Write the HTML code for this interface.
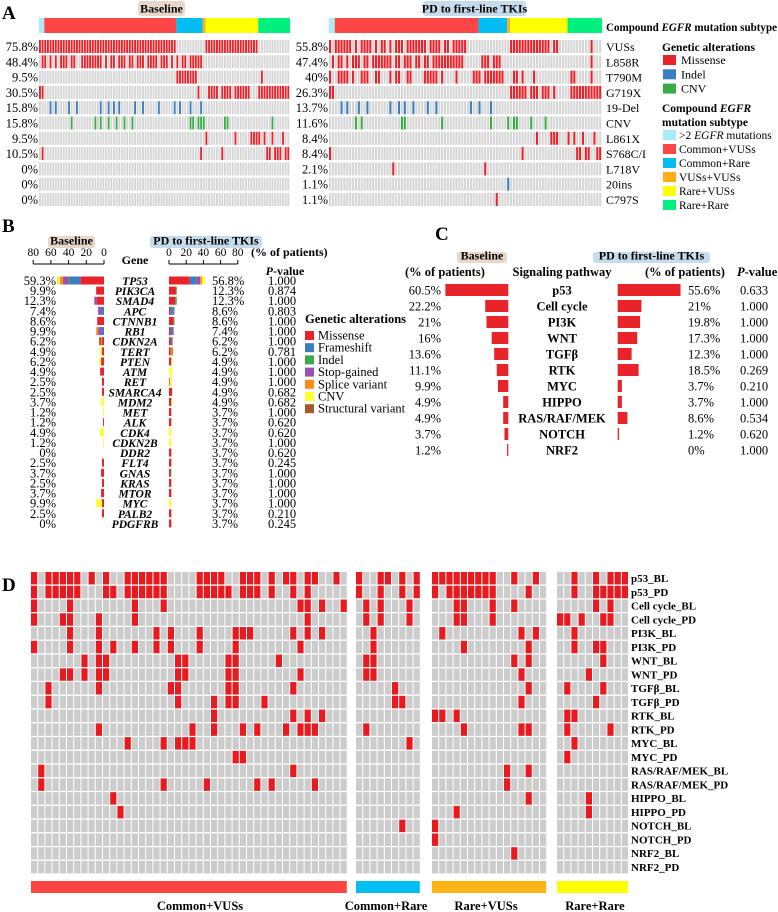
<!DOCTYPE html>
<html><head><meta charset="utf-8">
<style>
html,body{margin:0;padding:0;background:#fff;}
svg{display:block;}
text{font-family:"Liberation Serif",serif;fill:#000;}
</style></head>
<body>
<svg id="fig" width="778" height="912" viewBox="0 0 778 912" xmlns="http://www.w3.org/2000/svg"></svg>
<script>
// ---------- Panel A data ----------
const aRows=['VUSs','L858R','T790M','G719X','19-Del','CNV','L861X','S768C/I','L718V','20ins','C797S'];
const aTypes=['M','M','M','M','I','C','M','M','M','I','M'];
const aBLpct=['75.8%','48.4%','9.5%','30.5%','15.8%','15.8%','9.5%','10.5%','0%','0%','0%'];
const aPDpct=['55.8%','47.4%','40%','26.3%','13.7%','11.6%','8.4%','8.4%','2.1%','1.1%','1.1%'];
const aBL=["0-51,63-82","1,2,4,6,8-10,12,13,16-23,25,27,28,30-32,34,35,37-39,41-44,46-48,50,52,54,55,57-61","52-59,84","0,1,60,64-67,69-72,74-79,83-94","4,6,11,14,23,26,28,30,36,39,45,51,53,57,61","12,21,23,26,29,32,35,57,58,60,61,62,70,71,88","63,74,80,81,82,83,85,88,92","1,61,69,86,87,89,90,91,93,94","","",""];
const aPD=["0,2-7,9,11-14,16,18,19,21,23-25,27-33,35-38,40,41,43-47,63-76,78,79,91","1,3,4,6,8-10,12,13,15-21,23,24,26-28,30,31,33,34,36-46,53-55,57-59,91","0,3-6,8,11-13,16,17,21,23,24,27,28,33-37,39,44,50-52,54-60,64,65,67,71,84,85,91","0,1,63-68,70-72,74-76,78,84-94","4,6,10,13,21,24,26,29,34,37,49,52,56","9,11,25,26,39,56,62,64,65,70,75","72,77,78,79,83,85,88,92","0,67,86,87,89,90,93,94","22,54","62","58"];
const subNames=['>2 EGFR mutations','Common+VUSs','Common+Rare','VUSs+VUSs','Rare+VUSs','Rare+Rare'];
const subCounts=[2,50,10,1,20,12];
// ---------- Panel B data ----------
const bGenes=['TP53','PIK3CA','SMAD4','APC','CTNNB1','RB1','CDKN2A','TERT','PTEN','ATM','RET','SMARCA4','MDM2','MET','ALK','CDK4','CDKN2B','DDR2','FLT4','GNAS','KRAS','MTOR','MYC','PALB2','PDGFRB'];
const bBLpct=[59.3,9.9,12.3,7.4,8.6,9.9,6.2,4.9,6.2,4.9,2.5,2.5,3.7,1.2,1.2,4.9,1.2,0,2.5,3.7,2.5,3.7,9.9,2.5,0];
const bPDpct=[56.8,12.3,12.3,8.6,8.6,7.4,6.2,6.2,4.9,4.9,4.9,4.9,4.9,3.7,3.7,3.7,3.7,3.7,3.7,3.7,3.7,3.7,3.7,3.7,3.7];
const bP=['1.000','0.874','1.000','0.803','1.000','1.000','1.000','0.781','1.000','1.000','1.000','0.682','0.682','1.000','0.620','0.620','1.000','0.620','0.245','1.000','1.000','1.000','1.000','0.210','0.245'];
const bAltNames=['Missense','Frameshift','Indel','Stop-gained','Splice variant','CNV','Structural variant'];
// segment composition [missense, frameshift, indel, stop, splice, cnv, sv]
const bBLseg=[[30,13,2,7,4,3,0.3],[9.9,0,0,0,0,0,0],[9,0,0,3.3,0,0,0],[0,3.7,0,3.7,0,0,0],[8.6,0,0,0,0,0,0],[0,3.7,0,3.7,2.5,0,0],[2.5,0,0,0,1.2,0,2.5],[2.5,0,0,0,0,2.4,0],[3.7,0,0,0,0,2.5,0],[4.9,0,0,0,0,0,0],[2.5,0,0,0,0,0,0],[2.5,0,0,0,0,0,0],[0,0,0,0,0,3.7,0],[0,0,0,0,0,1.2,0],[1.2,0,0,0,0,0,0],[0,0,0,0,0,4.9,0],[0,0,0,0,0,1.2,0],[0,0,0,0,0,0,0],[2.5,0,0,0,0,0,0],[3.7,0,0,0,0,0,0],[2.5,0,0,0,0,0,0],[3.7,0,0,0,0,0,0],[2.5,0,0,0,0,7.4,0],[2.5,0,0,0,0,0,0],[0,0,0,0,0,0,0]];
const bPDseg=[[33,10.6,0.7,5,3,4.5,0],[11,0,1.3,0,0,0,0],[10,0,2.3,0,0,0,0],[2,4,1.2,1.4,0,0,0],[7.4,0,1.2,0,0,0,0],[2.5,3.7,0,1.2,0,0,0],[2.5,2.5,0,0,1.2,0,0],[2.5,0,0,0,2.5,0,1.2],[3.7,0,0,0,0,1.2,0],[0,0,0,0,0,4.9,0],[1.2,0,0,0,0,3.7,0],[4.9,0,0,0,0,0,0],[3.7,0,0,0,0,1.2,0],[3.7,0,0,0,0,0,0],[3.7,0,0,0,0,0,0],[0,0,0,0,0,3.7,0],[0,0,0,0,0,3.7,0],[3.7,0,0,0,0,0,0],[3.7,0,0,0,0,0,0],[2.5,0,1.2,0,0,0,0],[3.7,0,0,0,0,0,0],[3.7,0,0,0,0,0,0],[0,0,0,0,0,3.7,0],[3.7,0,0,0,0,0,0],[3.7,0,0,0,0,0,0]];
const bTicks=[80,60,40,20,0];
// ---------- Panel C data ----------
const cPath=['p53','Cell cycle','PI3K','WNT','TGFβ','RTK','MYC','HIPPO','RAS/RAF/MEK','NOTCH','NRF2'];
const cBL=[60.5,22.2,21,16,13.6,11.1,9.9,4.9,4.9,3.7,1.2];
const cPD=[55.6,21,19.8,17.3,12.3,18.5,3.7,3.7,8.6,1.2,0];
const cP=['0.633','1.000','1.000','1.000','1.000','0.269','0.210','1.000','0.534','0.620','1.000'];
// ---------- Panel D data ----------
const dRows=['p53_BL','p53_PD','Cell cycle_BL','Cell cycle_PD','PI3K_BL','PI3K_PD','WNT_BL','WNT_PD','TGFβ_BL','TGFβ_PD','RTK_BL','RTK_PD','MYC_BL','MYC_PD','RAS/RAF/MEK_BL','RAS/RAF/MEK_PD','HIPPO_BL','HIPPO_PD','NOTCH_BL','NOTCH_PD','NRF2_BL','NRF2_PD'];
const dGroups=['Common+VUSs','Common+Rare','Rare+VUSs','Rare+Rare'];
const dCols=[44,9,16,10];
const dCV=["0,2,3,4,5,6,8,10,13,14,15,16,17,18,23,24,25,26,29,30,31,33,35,36,38,39,42","0,2,3,4,5,6,10,11,13,14,15,16,17,18,23,24,25,26,27,29,30,31,33,36,38","0,5,14,18,37,38,40,43","0,4,5,9,14,38","5,9,17,19,23,28,29,30,36,38,40","0,5,9,11,14,17,19,23,28,37","7,9,10,20,21,27,28,34","4,5,7,9,10,20,21,27,28,37","2,9,19,20,27,28,36","2,20,25,27,28,32","25,36,38,40","9,22,25,29,31,35,37,38,39","13,18,20,21,22","28,29","1,36","1,18,24,31,33,39","11","12","","","",""];
const dCR=["0,3,4,6,8","0,3,6,8","1,3,7","1,3,7","2","2","1,2","1,2","5","5,6","","1","7","","","","","","6","","",""];
const dRV=["0,1,2,3,4,5,6,7,8,11,14","0,2,3,4,5,6,7,8,13","3,4,8,11","3,4,8","1,12,14","4,13","11,13","12","13","12","0,1,3","4,12,13","","","10,13","10","13","3","0","0","11",""];
const dRR=["2,5,7,8,9","2,5,6,7,8,9","5,7","0,1,3,6,7","2","2,5,6","6","4","1,6","5","1,2","1,7","2","1","","","4","4","","","",""];

const NS='http://www.w3.org/2000/svg';
const svg=document.getElementById('fig');
function el(tag,attrs,name,parent){
  const e=document.createElementNS(NS,tag);
  for(const k in attrs) e.setAttribute(k,attrs[k]);
  
  
  (parent||svg).appendChild(e);
  return e;
}
function txt(x,y,s,name,opt){
  opt=opt||{};
  const t=el('text',{x:x,y:y,'font-size':opt.fs||12,'text-anchor':opt.a||'start','font-weight':opt.b?'bold':'normal','font-style':opt.i?'italic':'normal'},name,opt.p);
  t.textContent=s;
  return t;
}
function parse(s){
  const out=new Set(); if(!s) return out;
  s.split(',').forEach(p=>{ if(p.includes('-')){const [a,b]=p.split('-').map(Number); for(let i=a;i<=b;i++) out.add(i);} else out.add(Number(p)); });
  return out;
}
const RED='#e8232a', BLUE='#3a7dc0', GREEN='#3aaa48';
const subColors=['#a8ecf8','#ff4646','#00bdf2','#ffae1a','#ffff00','#00f07e'];
const altColors=[RED,'#3a7dc0','#3aaa48','#9b4fb0','#ff8a1a','#ffff33','#a65a2a'];

// ---------------- Panel A ----------------
txt(2,19,'A','panel-a-label',{fs:19,b:true});
function box(x,y,w,h,fill,label,name){
  el('rect',{x:x,y:y,width:w,height:h,rx:3,fill:fill},name+'-box');
  txt(x+w/2,y+h-3.5,label,name,{fs:12,b:true,a:'middle'});
}
box(138,1,47,15,'#e8d8cb','Baseline','a-baseline-title');
box(423,1,103,15,'#c6dcec','PD to first-line TKIs','a-pd-title');
function oncoprint(x0,w,data,pct,side){
  const n=95, p=w/n;
  const xs=i=>x0+i*p;
  let c=0;
  subCounts.forEach((cnt,gi)=>{
    el('rect',{x:xs(c),y:18,width:cnt*p,height:15,fill:subColors[gi]},'a-'+side+'-subtype-'+gi);
    c+=cnt;
  });
  aRows.forEach((r,ri)=>{
    const y=40+ri*15.3;
    const set=parse(data[ri]);
    for(let i=0;i<n;i++){
      let f='#d6d6d6';
      if(set.has(i)) f=aTypes[ri]==='M'?RED:(aTypes[ri]==='I'?BLUE:GREEN);
      el('rect',{x:xs(i),y:y,width:p-0.75,height:13,fill:f},'a-'+side+'-cell');
    }
    txt(x0-1,y+11,pct[ri],'a-'+side+'-pct',{fs:12.5,a:'end'});
  });
}
oncoprint(39,251,aBL,aBLpct,'baseline');
oncoprint(329,273,aPD,aPDpct,'pd');
aRows.forEach((r,ri)=>txt(606,51+ri*15.3,r,'a-row-label',{fs:12}));
{
  const t=txt(606,31,'Compound ','a-subtype-title',{fs:11.5,b:true});
  t.setAttribute('textLength','171');
  t.setAttribute('lengthAdjust','spacingAndGlyphs');
  const s1=document.createElementNS(NS,'tspan'); s1.setAttribute('font-style','italic'); s1.textContent='EGFR'; t.appendChild(s1);
  const s2=document.createElementNS(NS,'tspan'); s2.textContent=' mutation subtype'; t.appendChild(s2);
}
txt(662,51,'Genetic alterations','a-legend-title',{fs:11.5,b:true});
[['Missense',RED],['Indel',BLUE],['CNV',GREEN]].forEach((it,i)=>{
  el('rect',{x:663,y:55+i*14.3,width:13,height:10,fill:it[1]},'a-legend-swatch');
  txt(681,64+i*14.3,it[0],'a-legend-entry',{fs:12});
});
{
  const t=txt(662,112,'Compound ','a-legend2-title',{fs:11.5,b:true});
  const s1=document.createElementNS(NS,'tspan'); s1.setAttribute('font-style','italic'); s1.textContent='EGFR'; t.appendChild(s1);
  txt(662,126,'mutation subtype','a-legend2-title-2',{fs:11.5,b:true});
}
subNames.forEach((s,i)=>{
  el('rect',{x:663,y:130+i*14,width:13,height:10,fill:subColors[i]},'a-subtype-swatch');
  const t=txt(679,139+i*14,'','a-subtype-entry',{fs:11.5});
  if(i===0){ t.appendChild(document.createTextNode('>2 ')); const sp=document.createElementNS(NS,'tspan'); sp.setAttribute('font-style','italic'); sp.textContent='EGFR'; t.appendChild(sp); t.appendChild(document.createTextNode(' mutations')); }
  else t.textContent=s;
});

// ---------------- Panel B ----------------
txt(2,232,'B','panel-b-label',{fs:19,b:true});
box(48,236,47,12,'#e8d8cb','Baseline','b-baseline-title');
box(150,236,112,12,'#c6dcec','PD to first-line TKIs','b-pd-title');
const bBLx=104, bBLs=0.885, bPDx=169, bPDs=0.86;
el('line',{x1:bBLx-80*bBLs,y1:264,x2:bBLx,y2:264,stroke:'#000','stroke-width':1},'b-baseline-axis');
el('line',{x1:bPDx,y1:264,x2:bPDx+80*bPDs,y2:264,stroke:'#000','stroke-width':1},'b-pd-axis');
bTicks.forEach(t=>{
  el('line',{x1:bBLx-t*bBLs,y1:260,x2:bBLx-t*bBLs,y2:264,stroke:'#000'},'b-baseline-tick');
  txt(bBLx-t*bBLs,256,String(t),'b-baseline-tick-label',{fs:11.5,a:'middle'});
  el('line',{x1:bPDx+t*bPDs,y1:260,x2:bPDx+t*bPDs,y2:264,stroke:'#000'},'b-pd-tick');
  txt(bPDx+t*bPDs,256,String(t),'b-pd-tick-label',{fs:11.5,a:'middle'});
});
txt(135,264,'Gene','b-gene-header',{fs:12,b:true,a:'middle'});
txt(251,256,'(% of patients)','b-pct-header',{fs:12,b:true});
{ const t=txt(285,275,'','b-pvalue-header',{fs:12,b:true,a:'middle'}); const sp=document.createElementNS(NS,'tspan'); sp.setAttribute('font-style','italic'); sp.textContent='P'; t.appendChild(sp); t.appendChild(document.createTextNode('-value')); }
const bBLvis=0.79, bPDvis=0.63;
bGenes.forEach((g,i)=>{
  const y=281+i*10.12;
  let xr=bBLx;
  bBLseg[i].forEach((v,k)=>{ if(v>0){ const w=v*bBLvis; el('rect',{x:xr-w,y:y-4.5,width:w,height:8,fill:altColors[k]},'b-baseline-bar-'+g); xr-=w; } });
  let xl=bPDx;
  bPDseg[i].forEach((v,k)=>{ if(v>0){ const w=v*bPDvis; el('rect',{x:xl,y:y-4.5,width:w,height:8,fill:altColors[k]},'b-pd-bar-'+g); xl+=w; } });
  txt(56,y+4,bBLpct[i]+'%','b-baseline-pct',{fs:12.5,a:'end'});
  txt(135,y+4,g,'b-gene-label',{fs:11.5,b:true,i:true,a:'middle'});
  txt(212,y+4,bPDpct[i]+'%','b-pd-pct',{fs:12.5});
  txt(268,y+4,bP[i],'b-pvalue',{fs:12.5});
});
txt(305,323,'Genetic alterations','b-legend-title',{fs:12.5,b:true});
bAltNames.forEach((n,i)=>{
  el('rect',{x:305,y:331+i*12.2,width:9,height:9,fill:altColors[i]},'b-legend-swatch');
  txt(318,339.5+i*12.2,n,'b-legend-entry',{fs:12.5});
});

// ---------------- Panel C ----------------
txt(435,240,'C','panel-c-label',{fs:19,b:true});
box(457,252,50,11,'#e8d8cb','Baseline','c-baseline-title');
box(593,252,117,11,'#c6dcec','PD to first-line TKIs','c-pd-title');
txt(405,276,'(% of patients)','c-baseline-pct-header',{fs:12.5,b:true});
txt(562,276,'Signaling pathway','c-pathway-header',{fs:12.5,b:true,a:'middle'});
txt(645,276,'(% of patients)','c-pd-pct-header',{fs:12.5,b:true});
{ const t=txt(737,276,'','c-pvalue-header',{fs:12.5,b:true}); const sp=document.createElementNS(NS,'tspan'); sp.setAttribute('font-style','italic'); sp.textContent='P'; t.appendChild(sp); t.appendChild(document.createTextNode('-value')); }
const cBLx=508.3, cBLs=1.04, cPDx=617.7, cPDs=1.13;
cPath.forEach((p,i)=>{
  const y=290+i*16;
  if(cBL[i]>0) el('rect',{x:cBLx-cBL[i]*cBLs,y:y-6,width:cBL[i]*cBLs,height:12,fill:RED},'c-baseline-bar-'+p);
  if(cPD[i]>0) el('rect',{x:cPDx,y:y-6,width:cPD[i]*cPDs,height:12,fill:RED},'c-pd-bar-'+p);
  txt(441,y+4.5,cBL[i]+'%','c-baseline-pct',{fs:12.5,a:'end'});
  txt(562,y+4.5,p,'c-pathway-label',{fs:12.5,b:true,a:'middle'});
  txt(688,y+4.5,cPD[i]+'%','c-pd-pct',{fs:12.5});
  txt(740,y+4.5,cP[i],'c-pvalue',{fs:12.5});
});

// ---------------- Panel D ----------------
txt(2,591,'D','panel-d-label',{fs:19,b:true});
const dX=[31,356,432,557], dPitch=7.2, dY0=572, dRowP=13.76;
const dData=[dCV,dCR,dRV,dRR];
const dGroupColors=['#ff4444','#00bdf2','#ffb314','#ffff00'];
const dLabelX=[200,386,486,595];
dGroups.forEach((g,gi)=>{
  dRows.forEach((r,ri)=>{
    const set=parse(dData[gi][ri]);
    for(let c=0;c<dCols[gi];c++){
      el('rect',{x:dX[gi]+c*dPitch,y:dY0+ri*dRowP,width:dPitch-1,height:dRowP-1.3,fill:set.has(c)?'#e8191f':'#cccccc'},'d-cell-'+r);
    }
  });
  el('rect',{x:dX[gi],y:881,width:dCols[gi]*dPitch-1,height:12,fill:dGroupColors[gi]},'d-group-bar');
  txt(dLabelX[gi],910,g,'d-group-label',{fs:12.5,b:true,a:'middle'});
});
dRows.forEach((r,ri)=>txt(631,dY0+ri*dRowP+10,r,'d-row-label',{fs:11,b:true}));
</script>
</body></html>
